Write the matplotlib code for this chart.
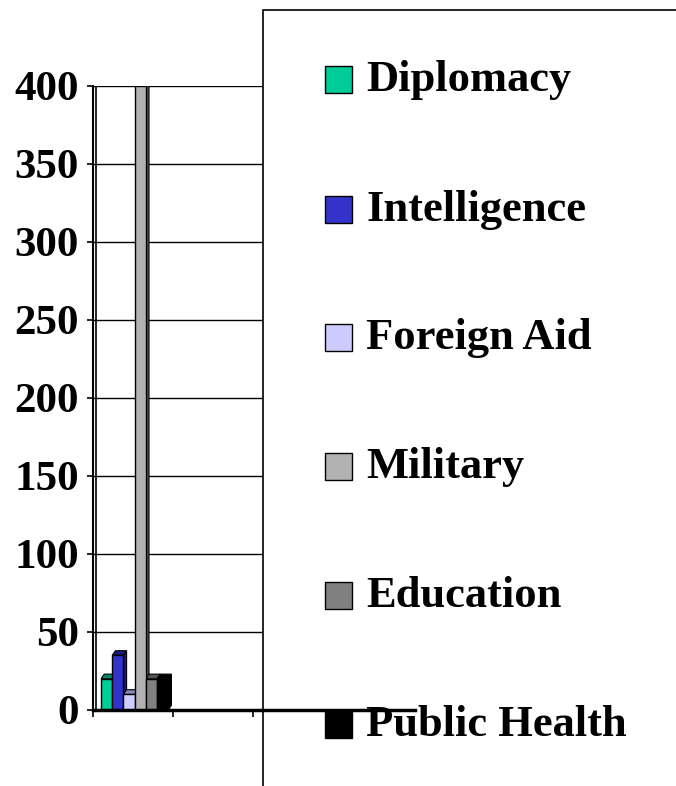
import matplotlib
matplotlib.use("Agg")
import matplotlib.pyplot as plt
from matplotlib.patches import Rectangle, Polygon
from matplotlib.lines import Line2D

categories = ["Diplomacy", "Intelligence", "Foreign Aid", "Military", "Education", "Public Health"]
values = [20, 35, 10, 400, 20, 20]
colors = ["#00CC99", "#3333CC", "#CCCCFF", "#B2B2B2", "#808080", "#000000"]
side_colors = ["#008866", "#1a1a80", "#8888bb", "#555555", "#555555", "#000000"]
yticks = [0, 50, 100, 150, 200, 250, 300, 350, 400]

W, H = 676, 786
fig = plt.figure(figsize=(W / 100, H / 100), dpi=100)
plt.rcParams["font.family"] = ["Liberation Serif", "DejaVu Serif"]

# plot area in pixels: x 93..413, y 86..710
ax = fig.add_axes([93 / W, (H - 710) / H, (413 - 93) / W, (710 - 86) / H])
ax.set_xlim(0, 4)
ax.set_ylim(0, 400)
ax.set_yticks(yticks)
ax.set_yticklabels([str(t) for t in yticks], fontsize=31, fontweight="bold")
ax.set_xticks([0, 1, 2, 3, 4])
ax.set_xticklabels([])
ax.tick_params(axis="y", direction="out", length=4, width=1.2, pad=6)
ax.tick_params(axis="x", direction="out", length=5, width=1.2)
for s in ["top", "right", "bottom"]:
    ax.spines[s].set_visible(False)
ax.spines["left"].set_linewidth(1.5)
ax.axvline(0.04, color="black", lw=1.2)
ax.grid(axis="y", color="black", lw=1.0)
ax.set_axisbelow(True)

bw = 0.14
x0 = 0.1
dx, dy = 0.04, 3.0
for i, (v, c, sc) in enumerate(zip(values, colors, side_colors)):
    left = x0 + i * bw
    ax.bar(left, v, width=bw, align="edge", color=c, edgecolor="black", lw=1.0, zorder=3)
    # small 3d side and top
    side = Polygon([[left + bw, 0], [left + bw + dx, dy], [left + bw + dx, v + dy], [left + bw, v]],
                   closed=True, facecolor=sc, edgecolor="black", lw=0.8, zorder=2.5)
    top = Polygon([[left, v], [left + dx, v + dy], [left + bw + dx, v + dy], [left + bw, v]],
                  closed=True, facecolor=sc, edgecolor="black", lw=0.8, zorder=2.5)
    ax.add_patch(side)
    ax.add_patch(top)

# legend box (covers right part of plot)
fig.add_artist(Rectangle((263 / W, -0.05), 1.0, (H - 10) / H + 0.05, transform=fig.transFigure,
                         facecolor="white", edgecolor="black", lw=1.2, zorder=1))
ys = [80, 210, 338, 467, 596, 725]
for name, c, y in zip(categories, colors, ys):
    fig.add_artist(Rectangle((325 / W, (H - y - 13) / H), 27 / W, 27 / H, transform=fig.transFigure,
                             facecolor=c, edgecolor="black", lw=1.0, zorder=2))
    fig.text(366 / W, (H - y) / H, name, fontsize=32, fontweight="bold", va="center", ha="left", zorder=2)

# baseline drawn on top of everything
fig.add_artist(Line2D([93 / W, 415 / W], [(H - 710) / H] * 2, transform=fig.transFigure,
                      color="black", lw=2.5, zorder=4))

fig.savefig("out.png", dpi=100)
